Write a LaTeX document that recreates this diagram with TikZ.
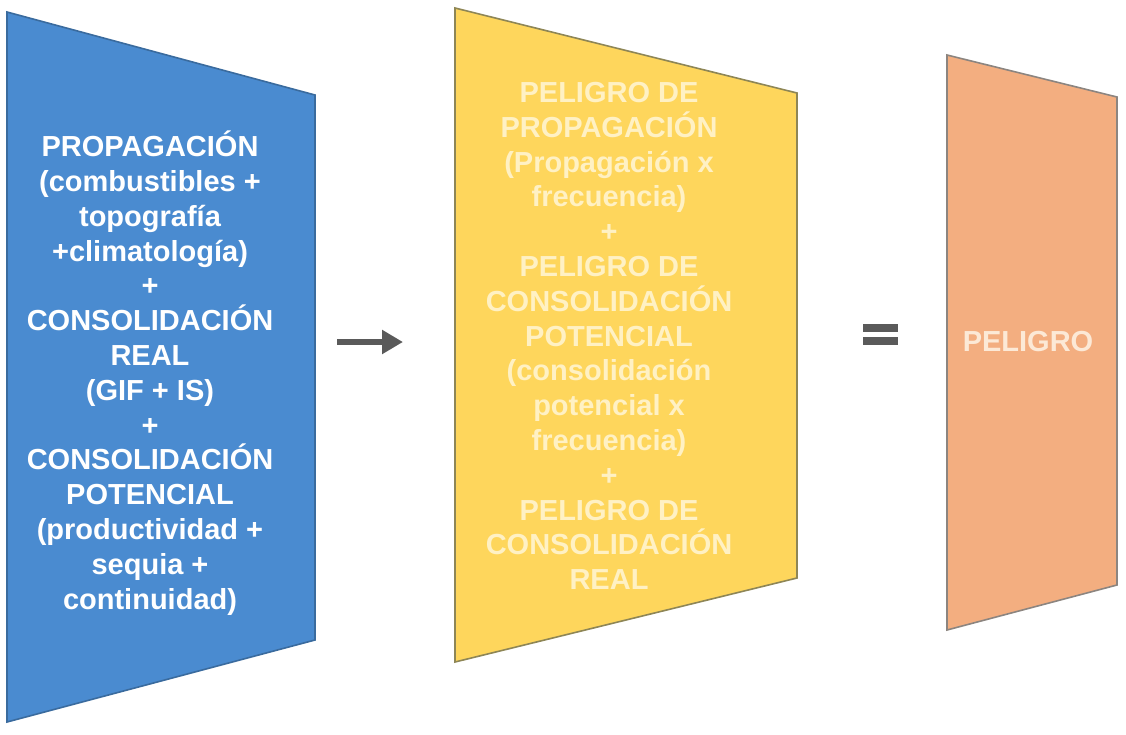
\documentclass[tikz,border=0pt]{standalone}
\usepackage{fontspec}
\setmainfont{Liberation Sans}
\usetikzlibrary{arrows.meta}

\definecolor{panelblue}{HTML}{4A8BD0}
\definecolor{panelblueline}{HTML}{3A6B9E}
\definecolor{panelyellow}{HTML}{FED65C}
\definecolor{panelyellowline}{HTML}{8E8656}
\definecolor{panelorange}{HTML}{F3AE80}
\definecolor{panelorangeline}{HTML}{8C8580}
\definecolor{paleyellow}{HTML}{FFF1C4}
\definecolor{paleorange}{HTML}{FCE9D6}
\definecolor{signgray}{HTML}{5A5A5A}

\tikzset{
  panel/.style={line width=1.6pt},
  paneltext/.style={align=center,inner sep=0pt,
    font=\fontsize{29}{34.8}\selectfont\bfseries}
}

\begin{document}
\begin{tikzpicture}[x=1pt,y=-1pt]
\useasboundingbox (0,0) rectangle (1126,734);

% corners of the three panels
\coordinate (B1) at (7,12);
\coordinate (B2) at (315,95);
\coordinate (B3) at (315,640);
\coordinate (B4) at (7,722);

\coordinate (Y1) at (455,8);
\coordinate (Y2) at (797,93);
\coordinate (Y3) at (797,578);
\coordinate (Y4) at (455,662);

\coordinate (O1) at (947,55);
\coordinate (O2) at (1117,97);
\coordinate (O3) at (1117,585);
\coordinate (O4) at (947,630);

\draw[panel,draw=panelblueline,fill=panelblue] (B1)--(B2)--(B3)--(B4)--cycle;
\draw[panel,draw=panelyellowline,fill=panelyellow] (Y1)--(Y2)--(Y3)--(Y4)--cycle;
\draw[panel,draw=panelorangeline,fill=panelorange] (O1)--(O2)--(O3)--(O4)--cycle;

\node[paneltext,text=white] (factores) at (150,373) {PROPAGACIÓN\\(combustibles +\\topografía\\+climatología)\\+\\CONSOLIDACIÓN\\REAL\\(GIF + IS)\\+\\CONSOLIDACIÓN\\POTENCIAL\\(productividad +\\sequia +\\continuidad)};

\node[paneltext,text=paleyellow] (peligros) at (609,336) {PELIGRO DE\\PROPAGACIÓN\\(Propagación x\\frecuencia)\\+\\PELIGRO DE\\CONSOLIDACIÓN\\POTENCIAL\\(consolidación\\potencial x\\frecuencia)\\+\\PELIGRO DE\\CONSOLIDACIÓN\\REAL};

\node[paneltext,text=paleorange] (peligro) at (1028,342) {PELIGRO};

% arrow and equals sign
\coordinate (arrS) at (337,342);
\coordinate (arrE) at (403,342);
\draw[signgray,line width=6pt,-{Triangle[length=21pt,width=23pt]}] (arrS) -- (arrE);

\fill[signgray] (863,324) rectangle (898,332);
\fill[signgray] (863,337) rectangle (898,345);
\end{tikzpicture}
\end{document}
